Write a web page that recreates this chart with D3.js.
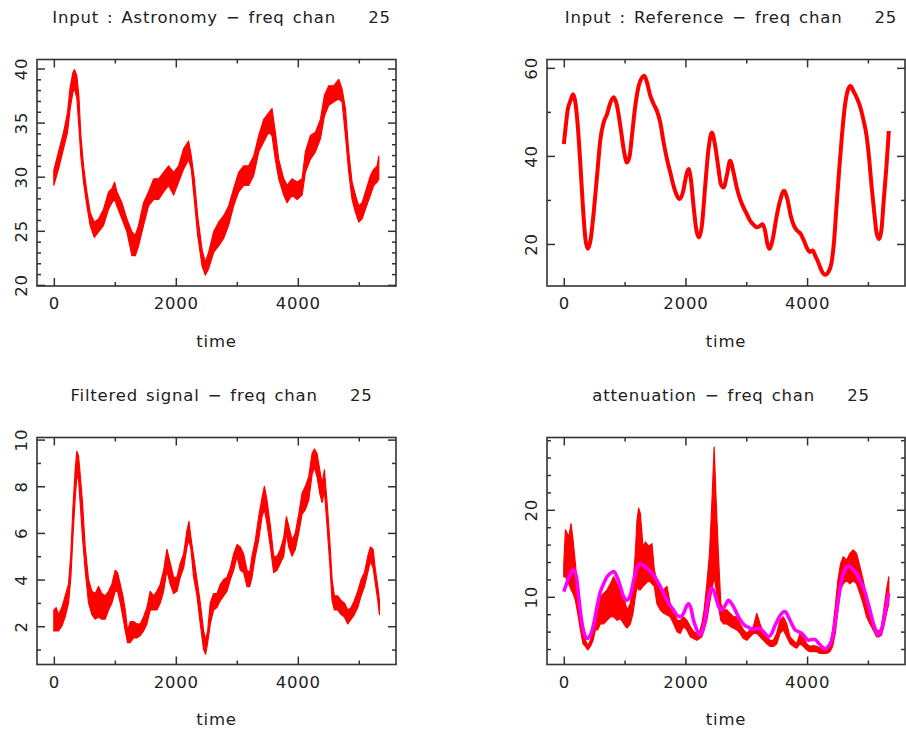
<!DOCTYPE html>
<html>
<head>
<meta charset="utf-8">
<script src="https://cdn.jsdelivr.net/npm/d3@7"></script>
<style>
  body { margin: 0; background: #fff; }
  svg { display: block; }
  text { font-family: "DejaVu Sans", sans-serif; font-size: 16.5px; fill: #222; letter-spacing: 0.8px; word-spacing: 2px; white-space: pre; }
  .frame { fill: none; stroke: #333; stroke-width: 1.6; }
  .tick line { stroke: #333; stroke-width: 1.5; }
</style>
</head>
<body>
<svg width="906" height="734"></svg>
<script>
// time axis, shared by the four panels
xMajorTicks = [0, 2000, 4000]
xMinorTicks = [1000, 3000, 5000]

// top left : astronomy input (noisy band, low / high edge)
astroTime = [0,77,159,224,268,312,339,377,410,443,487,542,596,662,733,815,897,952,996,1034,1116,1198,1280,1335,1389,1471,1553,1636,1718,1800,1882,1964,2046,2128,2210,2254,2303,2358,2429,2483,2538,2620,2702,2784,2866,2948,3030,3112,3194,3277,3359,3441,3523,3577,3632,3687,3769,3824,3906,3988,4070,4124,4206,4289,4371,4436,4507,4589,4671,4726,4781,4835,4890,4945,5000,5054,5109,5191,5246,5301,5328]
astroLo = [29.2,30.7,32.6,34.1,36.3,37.8,38.1,37.3,34.7,31.9,29.5,27.3,25.5,24.4,24.9,25.5,27.0,27.6,27.9,27.3,26.1,24.9,22.7,22.7,23.6,25.5,27.3,27.9,27.9,28.6,29.2,28.3,29.5,30.7,31.6,30.7,27.9,24.6,21.8,20.9,21.5,23.0,23.6,24.3,25.5,27.3,28.6,29.2,29.2,30.1,32.3,33.2,34.1,33.8,31.6,29.8,28.3,27.6,28.3,27.9,28.3,30.4,31.6,32.3,33.5,35.6,36.6,36.9,37.2,36.9,33.8,30.4,27.9,26.7,25.8,26.1,27.0,28.3,29.2,29.5,29.8]
astroHi = [30.6,32.3,34.1,35.9,38.3,39.6,39.9,39.3,37.5,33.8,31.0,28.6,26.7,25.8,26.1,27.0,28.6,28.9,29.5,28.6,27.6,26.1,24.9,24.6,25.5,27.6,28.6,29.8,29.8,30.4,31.0,30.4,31.0,32.6,33.3,31.9,29.8,26.4,23.3,22.1,23.0,24.9,25.8,26.4,27.3,28.9,30.4,31.0,31.0,31.9,33.8,35.3,35.9,36.3,34.1,31.6,29.8,29.2,29.8,29.5,29.8,32.3,33.8,34.1,35.3,37.5,38.4,38.4,39.0,38.1,36.3,32.3,29.5,28.3,27.3,27.6,28.6,30.1,30.7,31.0,31.9]
astroYMajor = [20, 25, 30, 35, 40]

// top right : reference input
refTime = [0,27,66,109,153,191,230,274,317,356,394,438,492,547,602,656,711,766,821,875,930,985,1039,1083,1121,1176,1231,1285,1324,1368,1422,1477,1532,1586,1641,1696,1750,1805,1860,1904,1958,2013,2051,2090,2133,2177,2221,2270,2325,2379,2434,2489,2544,2582,2626,2680,2735,2790,2844,2899,2954,3009,3063,3118,3173,3227,3271,3309,3348,3380,3435,3501,3556,3621,3676,3731,3785,3840,3895,3949,4004,4048,4092,4135,4185,4239,4294,4349,4403,4442,4485,4529,4573,4622,4677,4715,4759,4814,4868,4923,4978,5021,5060,5104,5142,5186,5224,5262,5306,5344]
refVal = [42.7,46.1,50.6,52.5,54.0,52.1,46.8,37.8,27.9,21.1,18.9,20.7,27.2,35.5,43.8,47.6,49.5,52.1,53.3,51.4,46.8,41.5,38.5,40.0,44.6,51.4,55.9,57.8,58.2,56.7,53.7,51.8,50.2,47.6,43.1,39.3,36.3,33.2,31.0,30.2,31.7,35.5,37.0,34.7,28.7,23.4,21.5,24.1,33.2,41.5,45.3,42.3,37.0,33.6,32.8,35.5,38.9,36.3,32.8,30.2,28.3,26.8,25.3,24.4,23.8,24.1,24.5,23.0,20.0,18.9,21.1,26.4,29.8,32.1,30.2,26.4,24.1,23.0,22.3,20.7,18.9,18.2,18.5,17.3,15.8,13.9,13.0,13.6,15.8,20.4,28.7,37.0,44.6,51.4,55.2,55.9,54.8,53.3,51.4,48.4,44.6,39.3,33.2,27.2,22.6,21.1,23.4,30.2,37.8,45.7]
refYMajor = [20, 40, 60]

// bottom left : filtered signal
filtTime = [0,38,77,131,186,241,279,312,350,377,405,432,470,514,569,624,678,733,788,842,897,952,1006,1045,1089,1132,1171,1209,1253,1307,1362,1417,1471,1526,1581,1636,1690,1745,1800,1854,1909,1964,2018,2073,2128,2183,2215,2248,2292,2347,2401,2456,2489,2522,2565,2620,2675,2730,2784,2839,2894,2948,3003,3058,3112,3167,3211,3249,3304,3359,3413,3452,3495,3550,3605,3659,3714,3769,3813,3851,3906,3960,4015,4070,4124,4179,4234,4272,4316,4360,4398,4436,4480,4524,4562,4600,4655,4710,4764,4819,4874,4928,4983,5038,5093,5147,5191,5235,5273,5312,5339]
filtLo = [1.8,1.8,1.8,2.0,2.4,3.0,4.1,5.8,7.5,8.4,8.3,7.3,5.8,4.4,3.0,2.5,2.3,2.4,2.3,2.3,2.7,3.0,3.5,3.5,3.0,2.4,1.8,1.3,1.3,1.5,1.5,1.6,1.8,2.1,2.7,2.7,2.7,3.0,3.5,4.4,3.8,3.4,3.5,4.1,4.5,5.4,5.7,5.3,4.1,3.3,2.1,1.0,0.8,1.3,2.1,2.7,2.8,3.1,3.3,3.5,4.0,4.4,5.0,4.4,4.3,3.7,3.7,4.1,5.0,5.7,6.7,7.0,6.4,5.4,4.3,4.4,4.7,5.0,6.0,5.4,5.0,5.3,6.0,6.8,7.0,7.4,8.5,8.8,8.4,7.7,7.3,7.8,6.3,4.7,3.1,2.7,2.7,2.5,2.4,2.1,2.3,2.5,2.8,3.3,3.7,4.3,4.8,4.5,3.8,3.1,2.5]
filtHi = [2.7,2.8,2.5,2.8,3.3,3.8,5.1,7.0,8.7,9.5,9.3,8.5,7.3,5.4,4.0,3.5,3.4,3.7,3.4,3.3,3.5,3.8,4.4,4.3,3.8,3.3,2.7,1.8,2.2,2.2,2.1,2.1,2.4,2.8,3.5,3.3,3.5,3.8,4.4,5.3,4.7,4.1,4.1,4.7,5.1,6.1,6.5,5.8,5.0,4.0,3.0,1.8,1.4,1.8,3.0,3.4,3.4,3.8,4.0,4.1,4.5,5.1,5.5,5.4,5.1,4.4,4.3,5.0,5.7,6.7,7.5,8.0,7.4,6.3,5.0,5.0,5.3,5.8,6.7,6.3,5.7,6.0,6.8,7.7,8.0,8.4,9.4,9.6,9.4,8.7,8.1,8.7,7.3,5.7,4.0,3.3,3.3,3.1,3.0,2.7,2.8,3.1,3.5,4.0,4.3,5.0,5.4,5.3,4.4,3.7,3.1]
filtYMajor = [2, 4, 6, 8, 10]

// bottom right : attenuation (red band) and its smooth fit (magenta)
attTime = [0,27,55,82,120,153,191,230,274,317,356,394,438,481,520,558,602,656,711,766,821,875,930,985,1039,1094,1138,1176,1203,1231,1258,1302,1346,1395,1450,1488,1532,1586,1641,1696,1750,1805,1860,1915,1969,2024,2079,2133,2188,2232,2270,2308,2352,2396,2434,2472,2505,2544,2582,2626,2680,2735,2790,2844,2899,2954,3009,3063,3118,3173,3227,3282,3337,3391,3446,3501,3556,3610,3665,3720,3774,3829,3884,3938,3993,4048,4103,4157,4212,4267,4321,4376,4420,4464,4507,4551,4595,4650,4704,4759,4814,4868,4923,4978,5032,5087,5142,5186,5224,5262,5306,5344]
attLo = [12.3,12.3,11.9,11.5,10.8,10.4,9.6,8.1,6.2,4.6,4.3,3.9,4.3,5.0,6.2,6.2,6.9,6.9,7.3,7.7,7.7,7.3,7.5,6.9,6.4,6.9,8.1,10.0,11.2,10.8,10.8,11.2,11.5,11.9,11.5,11.2,9.2,8.5,8.1,7.9,7.7,6.9,6.0,5.8,6.6,6.2,5.4,5.2,5.0,5.2,5.4,6.2,7.3,9.2,10.8,12.3,10.8,8.9,7.3,6.9,6.9,6.6,6.4,6.2,5.8,5.2,5.0,5.4,5.8,5.8,5.4,5.0,4.6,4.3,4.3,4.6,5.8,6.2,5.4,4.6,4.3,4.1,4.6,4.3,3.9,3.7,3.7,3.7,3.5,3.5,3.5,3.7,4.3,5.8,8.5,10.8,11.5,11.9,11.5,11.9,11.5,10.4,9.2,7.7,6.9,6.2,5.4,5.4,5.6,6.6,8.1,9.2]
attHi = [13.8,17.7,17.3,16.9,18.4,16.5,13.8,10.8,8.1,6.2,5.0,4.4,5.0,6.2,7.7,9.2,10.0,10.4,10.8,11.5,12.3,11.5,10.8,10.0,8.5,9.2,11.5,15.0,18.8,20.2,19.6,15.8,16.3,15.8,16.1,13.1,11.9,10.8,10.8,11.2,9.2,8.5,7.3,7.3,7.7,7.3,6.6,6.0,5.8,6.0,6.9,8.5,11.5,15.0,20.7,27.2,21.1,14.6,9.2,8.5,8.5,8.1,7.7,7.7,6.9,6.2,5.8,6.2,6.6,8.1,6.9,5.8,5.4,5.0,5.0,5.8,7.3,7.7,6.9,5.4,5.0,4.6,5.8,5.4,4.6,4.3,4.4,4.3,4.1,3.9,4.1,4.4,6.2,8.9,11.9,13.8,14.6,14.2,15.0,15.4,15.0,13.5,11.9,10.0,8.9,7.3,6.2,6.0,6.6,8.5,10.8,12.3]
fitTime = [0,44,98,153,208,246,284,328,383,438,492,547,602,656,711,766,821,875,930,985,1039,1094,1149,1203,1258,1313,1368,1422,1477,1532,1586,1641,1696,1750,1805,1860,1915,1969,2024,2051,2090,2133,2188,2232,2276,2325,2379,2434,2489,2544,2598,2653,2708,2762,2817,2872,2926,2981,3036,3091,3145,3200,3255,3309,3364,3419,3473,3528,3583,3638,3692,3747,3802,3856,3911,3966,4020,4075,4130,4185,4239,4294,4349,4403,4458,4513,4567,4622,4677,4732,4786,4841,4896,4950,5005,5060,5114,5169,5224,5262,5306,5344]
fitVal = [10.6,11.5,12.5,13.1,12.3,10.0,7.7,6.0,5.2,5.6,6.9,8.9,10.6,11.5,12.3,12.7,12.9,12.3,11.2,10.0,9.6,10.2,11.9,13.3,13.8,13.6,13.3,12.9,12.5,11.9,11.2,10.4,9.6,9.0,8.5,7.9,7.7,8.1,9.0,9.2,8.7,7.3,6.2,5.6,6.0,7.5,10.0,11.0,10.2,8.9,8.5,9.0,9.6,9.2,8.5,7.7,7.1,6.7,6.5,6.3,6.3,6.4,6.2,5.8,5.4,5.8,6.7,7.5,8.1,8.3,7.7,6.9,6.2,6.0,5.8,5.4,5.0,5.1,5.1,4.7,4.3,4.0,4.3,5.0,6.9,9.6,11.9,13.1,13.5,13.3,12.9,12.3,11.5,10.6,9.2,7.7,6.4,5.6,6.2,7.5,9.0,10.4]
attYMajor = [10, 20]

X_DOMAIN = [-276, 5610]
COLS = [[37, 396], [547, 905]]
ROWS = [[59.5, 286], [437.5, 664.5]]
MAJOR = 8
MINOR = 4

svg = d3.select('svg')

function addAxis(g, axis, tx, ty) {
  return g.append('g')
    .attr('transform', 'translate(' + tx + ',' + ty + ')')
    .call(axis)
    .call(function (a) { a.select('.domain').remove(); })
}

function drawPanel(col, row, title, yDomain, yMajor, yMinor) {
  var x0 = COLS[col][0], x1 = COLS[col][1]
  var y0 = ROWS[row][0], y1 = ROWS[row][1]
  var x = d3.scaleLinear().domain(X_DOMAIN).range([x0, x1])
  var y = d3.scaleLinear().domain(yDomain).range([y1, y0])
  var g = svg.append('g')

  g.append('text')
    .attr('x', (x0 + x1) / 2 + 5)
    .attr('y', y0 - 37)
    .attr('text-anchor', 'middle')
    .text(title)

  g.append('text')
    .attr('x', (x0 + x1) / 2)
    .attr('y', y1 + 60.5)
    .attr('text-anchor', 'middle')
    .text('time')

  // ticks point inwards on all four sides
  addAxis(g, d3.axisBottom(x).tickValues(xMajorTicks).tickSize(-MAJOR).tickPadding(11.3).tickFormat(d3.format('d')), 0, y1)
  addAxis(g, d3.axisBottom(x).tickValues(xMinorTicks).tickSize(-MINOR).tickFormat(''), 0, y1)
  addAxis(g, d3.axisTop(x).tickValues(xMajorTicks).tickSize(-MAJOR).tickFormat(''), 0, y0)
  addAxis(g, d3.axisTop(x).tickValues(xMinorTicks).tickSize(-MINOR).tickFormat(''), 0, y0)

  addAxis(g, d3.axisLeft(y).tickValues(yMajor).tickSize(-MAJOR).tickFormat(d3.format('d')), x0, 0)
    .selectAll('text')
    .attr('x', 0).attr('dy', 0)
    .attr('text-anchor', 'middle')
    .attr('transform', 'translate(-10.5,0) rotate(-90)')
  addAxis(g, d3.axisLeft(y).tickValues(yMinor).tickSize(-MINOR).tickFormat(''), x0, 0)
  addAxis(g, d3.axisRight(y).tickValues(yMajor).tickSize(-MAJOR).tickFormat(''), x1, 0)
  addAxis(g, d3.axisRight(y).tickValues(yMinor).tickSize(-MINOR).tickFormat(''), x1, 0)

  g.append('rect').attr('class', 'frame')
    .attr('x', x0).attr('y', y0)
    .attr('width', x1 - x0).attr('height', y1 - y0)

  return { g: g, x: x, y: y }
}

function minorTicks(lo, hi, step, major) {
  return d3.range(lo, hi + step / 2, step).filter(function (v) {
    return major.indexOf(Math.round(v * 100) / 100) < 0
  })
}

function band(p, times, lo, hi, colour) {
  var area = d3.area()
    .x(function (i) { return p.x(times[i]); })
    .y0(function (i) { return p.y(lo[i]); })
    .y1(function (i) { return p.y(hi[i]); })
  p.g.append('path')
    .datum(d3.range(times.length))
    .attr('d', area)
    .attr('fill', colour)
    .attr('stroke', colour)
    .attr('stroke-width', 1.2)
    .attr('stroke-linejoin', 'round')
}

function line(p, times, vals, colour, width) {
  var ln = d3.line()
    .x(function (i) { return p.x(times[i]); })
    .y(function (i) { return p.y(vals[i]); })
    .curve(d3.curveMonotoneX)
  p.g.append('path')
    .datum(d3.range(times.length))
    .attr('d', ln)
    .attr('fill', 'none')
    .attr('stroke', colour)
    .attr('stroke-width', width)
    .attr('stroke-linejoin', 'round')
}

p1 = drawPanel(0, 0, 'Input : Astronomy \u2212 freq chan    25', [19.9, 40.83], astroYMajor, minorTicks(20, 40, 1, astroYMajor))
band(p1, astroTime, astroLo, astroHi, '#ff0000')

p2 = drawPanel(1, 0, 'Input : Reference \u2212 freq chan    25', [10.45, 61.9], refYMajor, minorTicks(20, 60, 10, refYMajor))
line(p2, refTime, refVal, '#ff0000', 4)

p3 = drawPanel(0, 1, 'Filtered signal \u2212 freq chan    25', [0.36, 10.09], filtYMajor, minorTicks(1, 10, 1, filtYMajor))
band(p3, filtTime, filtLo, filtHi, '#ff0000')

p4 = drawPanel(1, 1, 'attenuation \u2212 freq chan    25', [2.22, 28.31], attYMajor, minorTicks(4, 28, 2, attYMajor))
band(p4, attTime, attLo, attHi, '#ff0000')
line(p4, fitTime, fitVal, '#ff00ff', 3.5)
</script>
</body>
</html>
